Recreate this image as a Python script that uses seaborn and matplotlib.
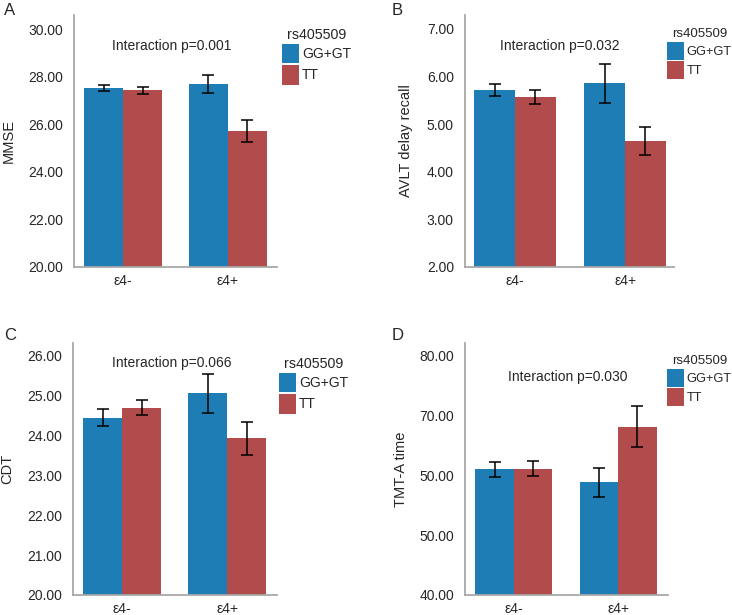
import numpy as np
import pandas as pd
import matplotlib
matplotlib.use('Agg')
import matplotlib.pyplot as plt
import seaborn as sns

# groups
apoe = ['ε4-', 'ε4+']
genotype = ['GG+GT', 'TT']

# A: MMSE
mmse_gg = [27.52, 27.69]
mmse_tt = [27.43, 25.72]
mmse_gg_err = [0.13, 0.39]
mmse_tt_err = [0.15, 0.47]

# B: AVLT delay recall
avlt_gg = [5.72, 5.86]
avlt_tt = [5.57, 4.64]
avlt_gg_err = [0.13, 0.41]
avlt_tt_err = [0.14, 0.29]

# C: CDT
cdt_gg = [24.45, 25.06]
cdt_tt = [24.70, 23.93]
cdt_gg_err = [0.22, 0.49]
cdt_tt_err = [0.19, 0.42]

# D: TMT-A time
tmt_gg = [61.0, 58.8]
tmt_tt = [61.1, 68.1]
tmt_gg_err = [1.25, 2.45]
tmt_tt_err = [1.3, 3.45]

p_values = ['Interaction p=0.001', 'Interaction p=0.032',
            'Interaction p=0.066', 'Interaction p=0.030']
ylabels = ['MMSE', 'AVLT delay recall', 'CDT', 'TMT-A time']
panel_letters = ['A', 'B', 'C', 'D']

ticks_a = [20, 22, 24, 26, 28, 30]
ticks_b = [2, 3, 4, 5, 6, 7]
ticks_c = [20, 21, 22, 23, 24, 25, 26]
ticks_d = [40, 50, 60, 70, 80]
ticklabels_d = ['40.00', '50.00', '50.00', '70.00', '80.00']

colors = {'GG+GT': '#1f7db6', 'TT': '#b24b4b'}

sns.set_style('white')
plt.rcParams['font.family'] = ['Liberation Sans', 'DejaVu Sans']
plt.rcParams['font.size'] = 10

W, H = 732, 615
fig = plt.figure(figsize=(W / 100, H / 100), dpi=100)


def px_axes(left, top, right, bottom):
    return fig.add_axes([left / W, 1 - bottom / H, (right - left) / W, (bottom - top) / H])


panels = [
    dict(box=(74, 15, 277, 267), xlim=(-0.47, 1.47), ylim=(20, 30.59),
         gg=mmse_gg, tt=mmse_tt, gge=mmse_gg_err, tte=mmse_tt_err,
         ticks=ticks_a, labels=None, txt=(0.483, 0.877), leg=(282, 28), lfs=10,
         lab=(4, 3), pad=9),
    dict(box=(465, 15, 674, 267), xlim=(-0.455, 1.445), ylim=(2, 7.29),
         gg=avlt_gg, tt=avlt_tt, gge=avlt_gg_err, tte=avlt_tt_err,
         ticks=ticks_b, labels=None, txt=(0.455, 0.877), leg=(667, 28), lfs=9.2,
         lab=(392, 3), pad=10),
    dict(box=(73, 343, 277, 595), xlim=(-0.47, 1.475), ylim=(20, 26.32),
         gg=cdt_gg, tt=cdt_tt, gge=cdt_gg_err, tte=cdt_tt_err,
         ticks=ticks_c, labels=None, txt=(0.483, 0.92), leg=(279, 357), lfs=10,
         lab=(4, 328), pad=9),
    dict(box=(465, 343, 668, 595), xlim=(-0.47, 1.48), ylim=(40, 82.1),
         gg=tmt_gg, tt=tmt_tt, gge=tmt_gg_err, tte=tmt_tt_err,
         ticks=ticks_d, labels=ticklabels_d, txt=(0.507, 0.865), leg=(667, 355), lfs=9.2,
         lab=(392, 328), pad=8),
]

for i, p in enumerate(panels):
    ax = px_axes(*p['box'])
    df = pd.DataFrame({
        'apoe': apoe + apoe,
        'genotype': [genotype[0]] * 2 + [genotype[1]] * 2,
        'value': p['gg'] + p['tt'],
    })
    sns.barplot(data=df, x='apoe', y='value', hue='genotype', order=apoe,
                hue_order=genotype, palette=colors, width=0.74, errorbar=None,
                saturation=1, linewidth=0, ax=ax)
    errs = [p['gge'], p['tte']]
    for cont, err in zip(ax.containers, errs):
        xs = [b.get_x() + b.get_width() / 2 for b in cont]
        ys = [b.get_height() for b in cont]
        ax.errorbar(xs, ys, yerr=err, fmt='none', ecolor='black',
                    elinewidth=1.1, capsize=4, capthick=1.1)

    ax.set_xlim(*p['xlim'])
    ax.set_ylim(*p['ylim'])
    ax.set_yticks(p['ticks'])
    if p['labels'] is None:
        ax.set_yticklabels(['%.2f' % t for t in p['ticks']])
    else:
        ax.set_yticklabels(p['labels'])
    ax.set_xlabel('')
    ax.set_ylabel(ylabels[i], fontsize=10.5, labelpad=p['pad'])
    sns.despine(ax=ax)
    for s in ['left', 'bottom']:
        ax.spines[s].set_color('#a8a8a8')
        ax.spines[s].set_linewidth(1.3)
    ax.tick_params(axis='y', length=6, width=1.3, color='#222222', pad=2, labelsize=10)
    ax.tick_params(axis='x', length=0, pad=5, labelsize=10)

    ax.text(p['txt'][0], p['txt'][1], p_values[i], transform=ax.transAxes,
            ha='center', va='center', fontsize=10)

    hl = 17 / (p['lfs'] * 100 / 72)
    handles, labels = ax.get_legend_handles_labels()
    ax.legend(handles, labels, title='rs405509', loc='upper left',
              bbox_to_anchor=(p['leg'][0] / W, 1 - p['leg'][1] / H),
              bbox_transform=fig.transFigure, frameon=False, borderpad=0,
              borderaxespad=0, handlelength=hl, handleheight=1.75,
              labelspacing=0.15, handletextpad=0.2, fontsize=p['lfs'],
              title_fontsize=p['lfs'] + 0.3)

    fig.text(p['lab'][0] / W, 1 - p['lab'][1] / H, panel_letters[i],
             ha='left', va='top', fontsize=12)

fig.savefig('out.png', dpi=100)
